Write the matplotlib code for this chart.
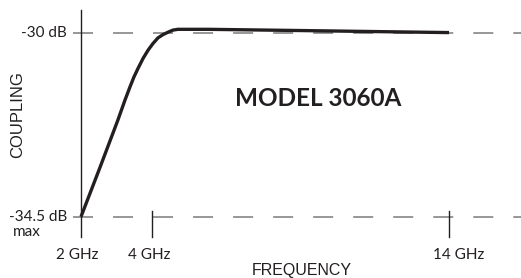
import numpy as np
import matplotlib
matplotlib.use("Agg")
from matplotlib import pyplot as plt

# curve (GHz, dB)
freq_ghz = [2.0, 2.54, 3.04, 3.24, 3.38, 3.49, 3.61, 3.75, 3.89, 4.03, 4.20,
            4.37, 4.54, 4.70, 4.87, 5.89, 9.0, 14.0]
coupling_db = [-34.5, -33.28, -32.13, -31.64, -31.32, -31.08, -30.86, -30.62,
               -30.42, -30.26, -30.12, -30.04, -29.98, -29.93, -29.91, -29.91,
               -29.94, -29.99]

tick_ghz = [2, 4, 14]
tick_labels = ["2 GHz", "4 GHz", "14 GHz"]
level_db = [-30, -34.5]
level_labels = ["-30 dB", "-34.5 dB"]

INK = "#231f20"
DASH = "#7a7a7a"

# the frequency axis of the drawing is not linear: piecewise mapping
GHZ_KNOTS = np.array([-1.0, 2.0, 4.0, 14.0, 20.0])
PX_KNOTS = np.array([-25.5, 81.0, 152.0, 449.0, 627.2])


def fwd(x):
    return np.interp(x, GHZ_KNOTS, PX_KNOTS)


def inv(p):
    return np.interp(p, PX_KNOTS, GHZ_KNOTS)


W, H = 521, 278
fig = plt.figure(figsize=(W / 100, H / 100), dpi=100)
ax = fig.add_axes([0, 0, 1, 1])
ax.set_xscale("function", functions=(fwd, inv))
ax.set_xlim(inv(0), inv(W))
ax.set_ylim(-36.0, -29.192)
ax.axis("off")

# dashed reference levels
x_start = inv(73)
for lv in level_db:
    ax.plot([x_start, inv(W + 20)], [lv, lv], color=DASH, lw=1.1,
            dashes=(13.1, 13.1), solid_capstyle="butt")

# vertical axis and frequency ticks
ax.plot([tick_ghz[0], tick_ghz[0]], [-35.0, -29.44], color=INK, lw=1.0)
for t in tick_ghz[1:]:
    ax.plot([t, t], [-34.36, -35.0], color=INK, lw=1.0)

# coupling curve
ax.plot(freq_ghz, coupling_db, color=INK, lw=2.4,
        solid_capstyle="butt", solid_joinstyle="round")


def px(x, y):
    return x / W, 1 - y / H


lab_font = dict(family="Lato", size=11, color=INK)

fig.text(*px(67, 33), level_labels[0], ha="right", va="center", **lab_font)
fig.text(*px(67, 216.7), level_labels[1], ha="right", va="center", **lab_font)
fig.text(*px(12.5, 232), "max", ha="left", va="center", **lab_font)

tick_px = [77, 149.5, 458.5]
for xp, lab in zip(tick_px, tick_labels):
    fig.text(*px(xp, 255), lab, ha="center", va="center", **lab_font)

fig.text(*px(302, 277.5), "FREQUENCY", ha="center", va="bottom",
         family="Liberation Sans", size=11.5, color=INK)
fig.text(*px(18, 114.5), "COUPLING", ha="center", va="center", rotation=90,
         family="Liberation Sans", size=12, color=INK)

fig.text(*px(318.5, 99), "MODEL 3060A", ha="center", va="center",
         family="Lato", weight="bold", size=17.5, color=INK)

fig.savefig("out.png", dpi=100, facecolor="white")
